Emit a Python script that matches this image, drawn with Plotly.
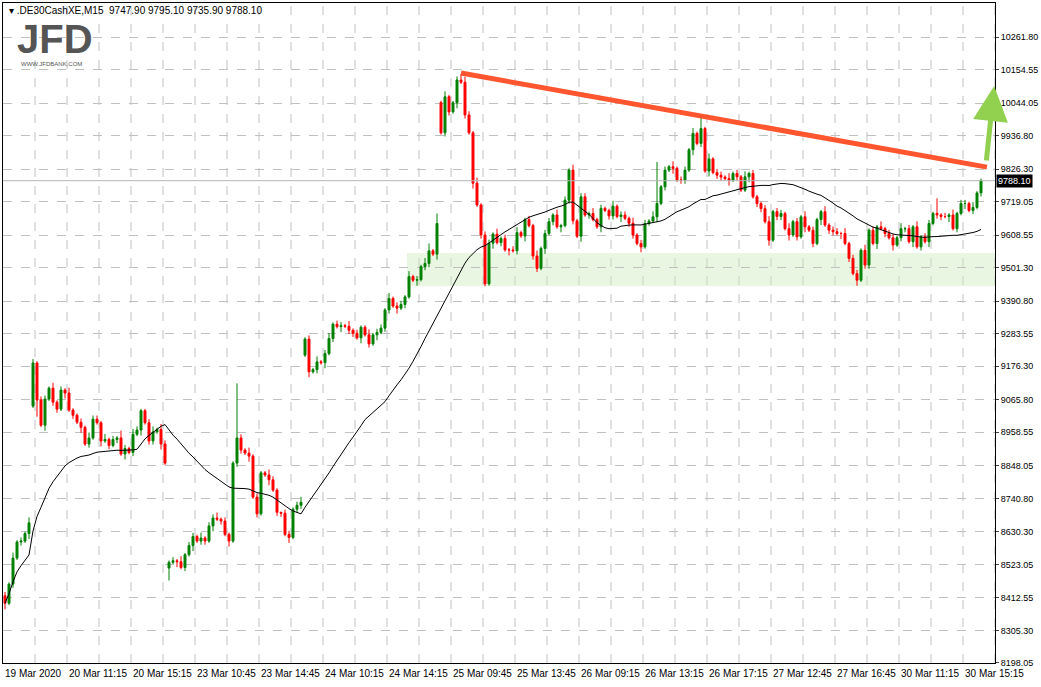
import pandas as pd
import plotly.graph_objects as go

# closes of each M15 bar
closes = [8395, 8458, 8544, 8597, 8600, 8625, 8660,
          9187, 9065, 8982, 9068, 9104, 9058, 9035, 9098, 9088, 9032, 9015, 8992, 8975, 8920,
          8940, 9002, 8990, 8930, 8935, 8915, 8935, 8940, 8887, 8905, 8892, 8952, 8966, 9030,
          8990, 8930, 8960, 8968, 8920, 8857,
          8530, 8535, 8532, 8513, 8555, 8585, 8615, 8600, 8610, 8600, 8650, 8676, 8672, 8666,
          8622, 8600, 8857, 8940, 8900, 8890, 8880, 8745, 8690, 8825, 8818, 8802, 8768, 8695,
          8692, 8622, 8612, 8705, 8718, 8728,
          9266, 9158, 9165, 9191, 9188, 9218, 9268, 9315, 9307, 9310, 9308, 9295, 9285, 9270,
          9305, 9280, 9250, 9280, 9288, 9302, 9362, 9400, 9375, 9368, 9380, 9405, 9472, 9460,
          9462, 9505, 9515, 9557, 9546, 9647,
          9946, 10065, 10015, 10045, 10120, 10113, 10005, 9946, 9780, 9708, 9609, 9448, 9582, 9612,
          9584, 9598, 9560, 9560, 9557, 9617, 9606, 9660, 9640, 9540, 9499, 9565, 9614, 9653,
          9675, 9636, 9640, 9724, 9823, 9656, 9605, 9735, 9675, 9680, 9660, 9636, 9697, 9690,
          9672, 9704, 9670, 9675, 9664, 9648, 9609, 9581, 9570, 9647, 9655, 9669, 9713, 9768,
          9823, 9834, 9829, 9790, 9790, 9823, 9890, 9944, 9911, 9960, 9820, 9860, 9815, 9806,
          9800, 9795, 9790, 9812, 9801, 9757, 9801, 9812, 9735, 9713, 9696, 9653, 9592, 9686,
          9670, 9680, 9630, 9609, 9653, 9603, 9669, 9636, 9625, 9581, 9660, 9686, 9642, 9625,
          9620, 9614, 9614, 9581, 9532, 9482, 9460, 9559, 9510, 9625, 9581, 9636, 9630, 9614,
          9600, 9576, 9600, 9630, 9630, 9587, 9636, 9570, 9603, 9587, 9647, 9680, 9675, 9670,
          9670, 9675, 9630, 9680, 9713, 9713, 9690, 9700, 9747.9, 9788.1]

# opens after session gaps (bar index -> open); other bars open at the previous close
gap_opens = {0: 8420, 7: 9045, 41: 8511, 75: 9213, 109: 10046}

# wick lengths in steps of 6 points
wick_up = ("2131213412213121311213221312142132112313"
           "2121312213122312111213121132102212312131"
           "2312213121131221312213121341213112132131"
           "2213121231121312213121312213121131221312"
           "2131121312213121312213121312112312213121"
           "3121131221312213121312213121312213121312"
           "21312")
wick_dn = ("3121213121312213121312113121213121312213"
           "1213121312213121312213121131221312213121"
           "3121312213121312213121131221312213121312"
           "2131213121312213121312213121131221312213"
           "1213121312213121312213121131221312213121"
           "3121312213121312213121312213121312213121"
           "31213")
# notable long wicks (bar index -> price)
high_over = {7: 9200, 58: 9120, 114: 10140, 108: 9680, 174: 9995, 163: 9850, 233: 9730, 244: 9795.1}
low_over = {0: 8375, 8: 9010, 41: 8470, 120: 9440, 161: 9640, 244: 9735.9}

y_ticks = [10261.80, 10154.55, 10044.05, 9936.80, 9826.30, 9719.05, 9608.55, 9501.30,
           9390.80, 9283.55, 9176.30, 9065.80, 8958.55, 8848.05, 8740.80, 8630.30,
           8523.05, 8412.55, 8305.30, 8198.05]
x_labels = ["19 Mar 2020", "20 Mar 11:15", "20 Mar 15:15", "23 Mar 10:45", "23 Mar 14:45",
            "24 Mar 10:15", "24 Mar 14:15", "25 Mar 09:45", "25 Mar 13:45", "26 Mar 09:15",
            "26 Mar 13:15", "26 Mar 17:15", "27 Mar 12:45", "27 Mar 16:45", "30 Mar 11:15",
            "30 Mar 15:15"]

n = len(closes)
opens = [gap_opens.get(i, closes[i - 1] if i else closes[0]) for i in range(n)]
highs, lows = [], []
for i in range(n):
    hi = max(opens[i], closes[i]) + int(wick_up[i % len(wick_up)]) * 6
    lo = min(opens[i], closes[i]) - int(wick_dn[i % len(wick_dn)]) * 6
    highs.append(high_over.get(i, hi))
    lows.append(low_over.get(i, lo))

df = pd.DataFrame({"i": range(n), "open": opens, "high": highs, "low": lows, "close": closes})
df["ma"] = df["close"].rolling(34, min_periods=1).mean()

FONT = "Liberation Sans"

fig = go.Figure()
# support zone
fig.add_shape(type="rect", x0=100.5, x1=250, y0=9440, y1=9550, xref="x", yref="y",
              fillcolor="rgba(205,235,190,0.45)", line_width=0, layer="below")
fig.add_hline(y=9788.1, line=dict(color="#b4b4b4", width=1))

fig.add_trace(go.Candlestick(
    x=df["i"], open=df["open"], high=df["high"], low=df["low"], close=df["close"],
    increasing=dict(line=dict(color="#008000", width=1), fillcolor="#008000"),
    decreasing=dict(line=dict(color="#ff0000", width=1), fillcolor="#ff0000"),
    whiskerwidth=0, showlegend=False, hoverinfo="skip"))
fig.add_trace(go.Scatter(x=df["i"], y=df["ma"], mode="lines",
                         line=dict(color="black", width=1), showlegend=False, hoverinfo="skip"))

# trend line and breakout arrow
fig.add_shape(type="line", x0=114, y0=10143, x1=245.5, y1=9833, xref="x", yref="y",
              line=dict(color="#ff5630", width=5))
fig.add_annotation(x=247.3, y=10100, ax=245.3, ay=9850, xref="x", yref="y", axref="x", ayref="y",
                   showarrow=True, arrowhead=2, arrowsize=1.4, arrowwidth=5, arrowcolor="#92d050", text="")

for gx in range(8, n + 4, 8):
    fig.add_vline(x=gx - 0.5, line=dict(color="#c0c0c0", width=1, dash="dash"), layer="below")

for k, lab in enumerate(x_labels):
    fig.add_annotation(x=k * 16 - 0.5, y=0, xref="x", yref="paper", yanchor="top", xanchor="left",
                       text=lab, showarrow=False, yshift=-3,
                       font=dict(size=10, color="black", family=FONT))

fig.add_annotation(x=1, y=9788.1, xref="paper", yref="y", xanchor="left", text="9788.10",
                   showarrow=False, bgcolor="black", font=dict(size=9, color="white", family=FONT),
                   borderpad=1, xshift=1)
fig.add_annotation(x=0.004, y=1.0, xref="paper", yref="paper", xanchor="left", yanchor="top",
                   text="▾ .DE30CashXE,M15  9747.90 9795.10 9735.90 9788.10", showarrow=False,
                   font=dict(size=10, color="black", family=FONT))
fig.add_annotation(x=0.012, y=0.982, xref="paper", yref="paper", xanchor="left", yanchor="top",
                   text="<b>JFD</b>", showarrow=False,
                   font=dict(size=40, color="#555555", family=FONT))
fig.add_annotation(x=0.016, y=0.915, xref="paper", yref="paper", xanchor="left", yanchor="top",
                   text="WWW.JFDBANK.COM", showarrow=False,
                   font=dict(size=6, color="#555555", family=FONT))

fig.update_layout(
    width=1041, height=687, margin=dict(l=3, r=46, t=3, b=24, autoexpand=False),
    paper_bgcolor="white", plot_bgcolor="white",
    font=dict(family=FONT, size=10, color="black"),
    xaxis=dict(range=[-0.5, 247.5], showgrid=False, showticklabels=False, rangeslider_visible=False,
               showline=True, linecolor="black", mirror=True, zeroline=False),
    yaxis=dict(range=[8198, 10374], side="right", tickvals=y_ticks,
               ticktext=[f"{v:.2f}" for v in y_ticks], showgrid=True, tickfont=dict(size=9),
               gridcolor="#c0c0c0", griddash="dash", showline=True, linecolor="black",
               mirror=True, ticks="outside", ticklen=3, zeroline=False),
)

fig.write_html("out.html", config={"displayModeBar": False},
               post_script="document.body.style.margin='0';")
